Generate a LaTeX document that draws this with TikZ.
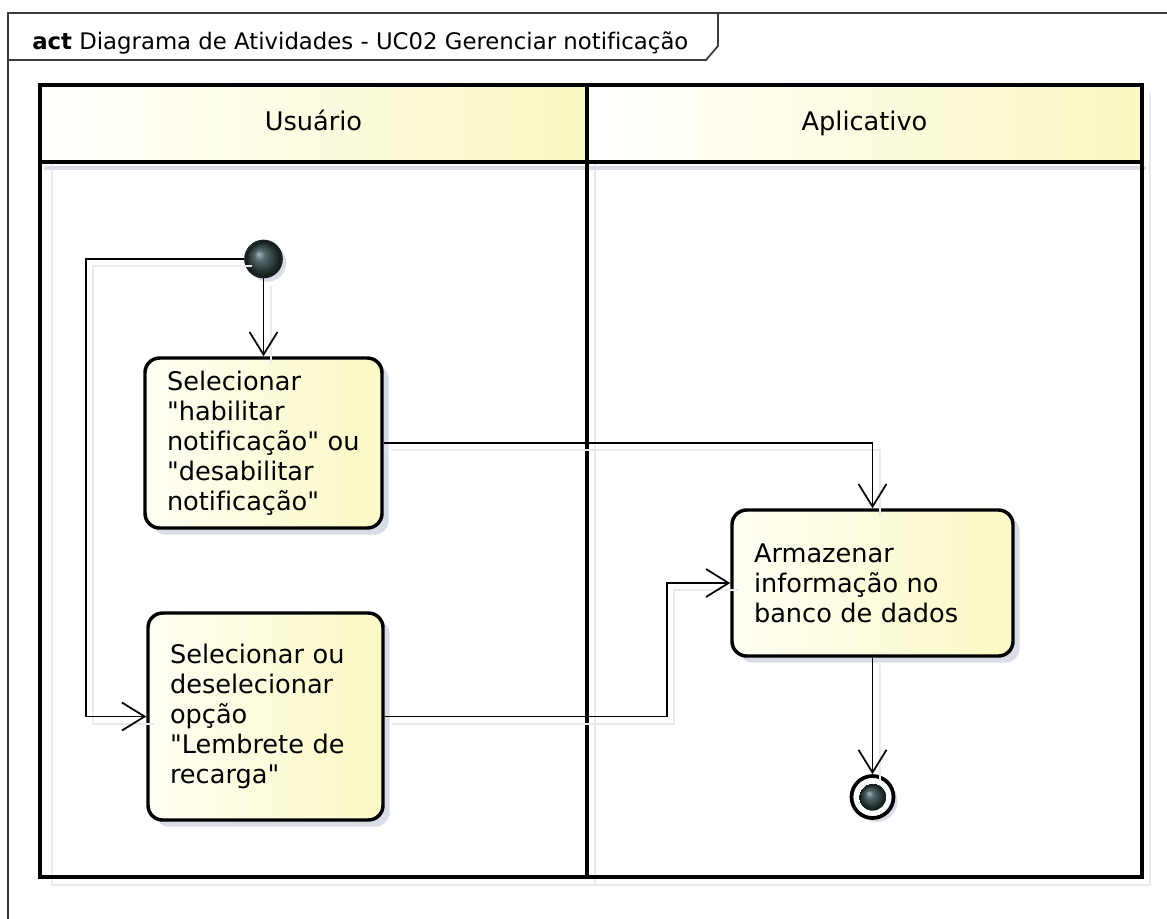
\documentclass[tikz,border=0pt]{standalone}
\usepackage{fontspec}
\setmainfont{DejaVu Sans}[Ligatures={NoCommon}]
\usetikzlibrary{arrows.meta,shadows}
\definecolor{laneyellow}{HTML}{FAF8C2}
\definecolor{boxyellow}{HTML}{FBF9C4}
\definecolor{boxlight}{HTML}{FEFEF4}
\definecolor{shadowgray}{HTML}{D8DCE4}
\definecolor{lineshadow}{HTML}{E8EAEE}
\definecolor{framegray}{HTML}{3A3A3A}
\definecolor{ballhi}{HTML}{A9B9BA}
\definecolor{ballmid}{HTML}{56696B}
\definecolor{balldark}{HTML}{16201F}
\pgfdeclareradialshading{umlball}{\pgfpoint{-7bp}{7bp}}{%
  color(0bp)=(ballhi); color(7bp)=(ballmid); color(22bp)=(balldark); color(25bp)=(balldark)}
\newcommand{\q}{\textquotedbl}
\tikzset{
  txt/.style={font=\fontsize{19.2pt}{22.5pt}\selectfont},
  action/.style={txt, draw=black, line width=2.6pt, rounded corners=11pt,
    left color=boxlight, right color=boxyellow, align=left, inner xsep=16.5pt, inner ysep=0pt,
    drop shadow={shadow xshift=5pt, shadow yshift=-5pt, fill=shadowgray, opacity=1}},
  lanetext/.style={txt, inner sep=0pt, text height=14pt, text depth=4pt},
  lane/.style={draw=black, line width=3pt},
  laneshadow/.style={draw=lineshadow, line width=2pt},
  flow/.style={draw=black, line width=1.3pt, -{Straight Barb[length=17pt,width=21pt]}},
  flowshadow/.style={draw=lineshadow, line width=1.5pt, transform canvas={xshift=5.5pt,yshift=-5.5pt}},
  initnode/.style={circle, draw=balldark, line width=1pt, inner sep=0pt, minimum size=28pt, shading=umlball,
    drop shadow={shadow xshift=3pt, shadow yshift=-3pt, fill=shadowgray, opacity=1}},
  finalring/.style={circle, draw=black, line width=2.8pt, fill=white, inner sep=0pt, minimum size=31.5pt,
    drop shadow={shadow xshift=3pt, shadow yshift=-3pt, fill=shadowgray, opacity=1}},
  finalball/.style={circle, inner sep=0pt, minimum size=20.5pt, shading=umlball},
  frameline/.style={draw=framegray, line width=1.3pt}
}
\begin{document}
\begin{tikzpicture}[x=0.75pt,y=-0.75pt]
\useasboundingbox (0,0) rectangle (1167,918);
\clip (0,0) rectangle (1167,918);
\fill[white] (0,0) rectangle (1167,918);
% frame
\draw[frameline] (8,940) -- (8,13) -- (1190,13);
\draw[frameline] (8,60) -- (706,60) -- (718,46) -- (718,13);
\node[anchor=base west, inner sep=0pt, font=\fontsize{17.1pt}{21pt}\selectfont] (title) at (32,49)
  {\textbf{act} Diagrama de Atividades - UC02 Gerenciar notificação};
% lane shadows
\draw[laneshadow] (52,93) -- (52,885) -- (1150,885) -- (1150,93);
\draw[laneshadow] (595,93) -- (595,885);
\draw[draw=shadowgray, line width=3pt] (44,168) -- (1146,168);
% lane headers
\fill[left color=white, right color=laneyellow] (40,85) rectangle (587,162);
\fill[left color=white, right color=laneyellow] (587,85) rectangle (1142,162);
\node[lanetext] (h1) at (313.5,124) {Usuário};
\node[lanetext] (h2) at (864.5,124) {Aplicativo};
% lanes
\draw[lane] (40,85) rectangle (1142,877);
\draw[lane] (40,162) -- (1142,162);
\draw[draw=black, line width=2.4pt] (587,85) -- (587,877);
% nodes
\node[initnode] (init) at (263.5,259) {};
\node[action, text width=144.75pt, minimum height=127.5pt] (A) at (263.5,443)
  {Selecionar\\\q habilitar\\notificação\q{} ou\\\q desabilitar\\notificação\q};
\node[action, text width=143.25pt, minimum height=155.25pt] (B) at (265.5,716.5)
  {Selecionar ou\\deselecionar\\opção\\\q Lembrete de\\recarga\q};
\node[action, text width=177.75pt, minimum height=109.5pt] (C) at (872.5,583)
  {Armazenar\\informação no\\banco de dados};
\node[finalring] (fin) at (872.5,797) {};
\node[finalball] (finb) at (fin.center) {};
\coordinate (lp) at (86,259);
\coordinate (bc) at (667,0);
% connector shadows
\draw[flowshadow] (init.south) -- (A.north);
\draw[flowshadow] (init.west) -- (lp) |- (B.west);
\draw[flowshadow] (A.east) -| (C.north);
\draw[flowshadow] (B.east) -- (B.east -| bc) -- (bc |- C.west) -- (C.west);
\draw[flowshadow] (C.south) -- (fin.north);
% connectors
\draw[flow] (init.south) -- (A.north);
\draw[flow] (init.west) -- (lp) |- (B.west);
\draw[flow] (A.east) -| (C.north);
\draw[flow] (B.east) -- (B.east -| bc) -- (bc |- C.west) -- (C.west);
\draw[flow] (C.south) -- (fin.north);
\end{tikzpicture}
\end{document}
